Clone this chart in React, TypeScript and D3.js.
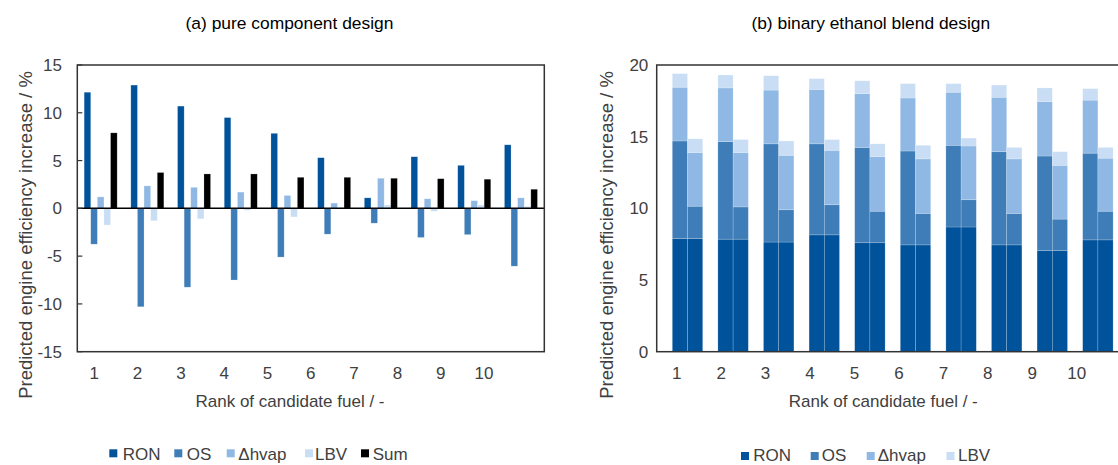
import React from 'react';
import * as d3 from 'd3';

// ---------- data ----------
const ranks = ['1', '2', '3', '4', '5', '6', '7', '8', '9', '10'];
const pureKeys = ['RON', 'OS', 'Δhvap', 'LBV', 'Sum'];
const blendKeys = ['RON', 'OS', 'Δhvap', 'LBV'];

const pureRON = [12.15, 12.9, 10.7, 9.5, 7.85, 5.3, 1.1, 5.4, 4.5, 6.65];
const pureOS = [-3.75, -10.3, -8.25, -7.5, -5.1, -2.7, -1.55, -3.05, -2.75, -6.05];
const pureHvap = [1.2, 2.35, 2.2, 1.7, 1.35, 0.55, 3.15, 1.0, 0.8, 1.1];
const pureLBV = [-1.75, -1.3, -1.1, -0.2, -0.9, 0.1, 0.35, -0.3, 0.35, 0.2];
const pureSum = [7.9, 3.75, 3.6, 3.6, 3.25, 3.25, 3.15, 3.1, 3.05, 2.0];

const blendRON = [7.9, 7.85, 7.65, 8.15, 7.6, 7.45, 8.7, 7.45, 7.05, 7.8];
const blendOS_A = [6.8, 6.8, 6.85, 6.35, 6.65, 6.55, 5.7, 6.5, 6.6, 6.05];
const blendHvap_A = [3.75, 3.75, 3.75, 3.8, 3.75, 3.7, 3.7, 3.8, 3.8, 3.7];
const blendLBV_A = [0.95, 0.9, 1.0, 0.75, 0.9, 1.0, 0.6, 0.85, 0.95, 0.8];
const blendOS_B = [2.25, 2.25, 2.25, 2.1, 2.2, 2.2, 1.9, 2.2, 2.2, 2.0];
const blendHvap_B = [3.75, 3.8, 3.8, 3.8, 3.8, 3.8, 3.75, 3.8, 3.75, 3.7];
const blendLBV_B = [0.95, 0.9, 1.0, 0.75, 0.9, 0.95, 0.55, 0.8, 0.95, 0.75];

const pureTicks = [-15, -10, -5, 0, 5, 10, 15];
const blendTicks = [0, 5, 10, 15, 20];

// ---------- styles ----------
const colors: Record<string, string> = {
  RON: '#00529b',
  OS: '#3f7db8',
  'Δhvap': '#8fb9e4',
  LBV: '#c9def4',
  Sum: '#000000',
};
const FONT = '"Liberation Sans", Arial, sans-serif';
const GRAY = '#404040';

export default function App() {
  // ---- left panel ----
  const L = { x0: 77.3, x1: 544.3, y0: 65, y1: 351.7 };
  const yL = d3.scaleLinear().domain([-15, 15]).range([L.y1, L.y0]);
  const xL = d3.scaleBand().domain(ranks).range([L.x0, L.x1]).paddingInner(0.293).paddingOuter(0.1465);
  const xLs = d3.scaleBand().domain(pureKeys).range([0, xL.bandwidth()]);
  const xLlab = d3.scaleBand().domain(ranks).range([72.65, 505.65]);
  const pureRows = ranks.map((r, i) => ({
    rank: r,
    RON: pureRON[i],
    OS: pureOS[i],
    'Δhvap': pureHvap[i],
    LBV: pureLBV[i],
    Sum: pureSum[i],
  }));

  // ---- right panel ----
  const R = { x0: 656.7, x1: 1125, y0: 65, y1: 351.7 };
  const yR = d3.scaleLinear().domain([0, 20]).range([R.y1, R.y0]);
  const xR = d3.scaleBand().domain(ranks).range([664.7, 1120.7]).paddingInner(0.333).paddingOuter(0.1667);
  const xRs = d3.scaleBand().domain(['A', 'B']).range([0, xR.bandwidth()]);
  const xRlab = d3.scaleBand().domain(ranks).range([654.5, 1098.9]);
  const rowsA = ranks.map((r, i) => ({ rank: r, RON: blendRON[i], OS: blendOS_A[i], 'Δhvap': blendHvap_A[i], LBV: blendLBV_A[i] }));
  const rowsB = ranks.map((r, i) => ({ rank: r, RON: blendRON[i], OS: blendOS_B[i], 'Δhvap': blendHvap_B[i], LBV: blendLBV_B[i] }));
  const stack = d3.stack<any>().keys(blendKeys);
  const stackA = stack(rowsA);
  const stackB = stack(rowsB);

  const leftLegend = [
    { k: 'RON', sx: 109.3, tx: 122.7 },
    { k: 'OS', sx: 174.3, tx: 186.7 },
    { k: 'Δhvap', sx: 226.7, tx: 238.3 },
    { k: 'LBV', sx: 305, tx: 315 },
    { k: 'Sum', sx: 361, tx: 372.7 },
  ];
  const rightLegend = [
    { k: 'RON', sx: 741, tx: 753.3 },
    { k: 'OS', sx: 810.7, tx: 821.7 },
    { k: 'Δhvap', sx: 866.7, tx: 877.7 },
    { k: 'LBV', sx: 946.5, tx: 958 },
  ];

  return (
    <svg width={1118} height={465} style={{ position: 'absolute', left: 0, top: 0, background: '#fff' }} fontFamily={FONT}>
      {/* ===== Left panel ===== */}
      <text x={289.5} y={29} textAnchor="middle" fontSize={17.4} fill="#000">(a) pure component design</text>
      <g>
        {pureRows.map((row) => (
          <g key={row.rank} transform={`translate(${xL(row.rank)},0)`}>
            {pureKeys.map((k) => {
              const v = (row as any)[k] as number;
              const y = Math.min(yL(v), yL(0));
              const h = Math.abs(yL(v) - yL(0));
              return (
                <rect key={k} x={xLs(k)} y={y} width={xLs.bandwidth()} height={h} fill={colors[k]}
                  stroke="rgba(255,255,255,0.35)" strokeWidth={0.6} />
              );
            })}
          </g>
        ))}
      </g>
      <line x1={L.x0} x2={L.x1} y1={yL(0)} y2={yL(0)} stroke="#000" strokeWidth={1.5} />
      <rect x={L.x0} y={L.y0} width={L.x1 - L.x0} height={L.y1 - L.y0} fill="none" stroke="#333" strokeWidth={1.5} />
      {pureTicks.map((t) => (
        <g key={t}>
          <line x1={L.x0} x2={L.x0 + 5} y1={yL(t)} y2={yL(t)} stroke="#333" strokeWidth={1.2} />
          <text x={62} y={yL(t)} dy="0.35em" textAnchor="end" fontSize={17} fill={GRAY}>{t}</text>
        </g>
      ))}
      {ranks.map((r) => (
        <text key={r} x={(xLlab(r) as number) + xLlab.bandwidth() / 2} y={379} textAnchor="middle" fontSize={17} fill={GRAY}>{r}</text>
      ))}
      <text x={290} y={407} textAnchor="middle" fontSize={17} fill={GRAY}>Rank of candidate fuel / -</text>
      <text transform="translate(25,235) rotate(-90)" textAnchor="middle" dominantBaseline="central" fontSize={18.5} fill={GRAY}>
        Predicted engine efficiency increase / %
      </text>
      {leftLegend.map((d) => (
        <g key={d.k}>
          <rect x={d.sx} y={449.3} width={8} height={8} fill={colors[d.k]} />
          <text x={d.tx} y={460} fontSize={17} fill={GRAY}>{d.k}</text>
        </g>
      ))}

      {/* ===== Right panel ===== */}
      <text x={870.8} y={29} textAnchor="middle" fontSize={17.4} fill="#000">(b) binary ethanol blend design</text>
      {[{ key: 'A', s: stackA }, { key: 'B', s: stackB }].map(({ key, s }) => (
        <g key={key}>
          {s.map((layer) => (
            <g key={layer.key} fill={colors[layer.key]}>
              {layer.map((seg, i) => (
                <rect key={i}
                  x={(xR(ranks[i]) as number) + (xRs(key) as number)}
                  y={yR(seg[1])}
                  width={xRs.bandwidth()}
                  height={yR(seg[0]) - yR(seg[1])}
                  stroke="rgba(255,255,255,0.3)" strokeWidth={0.6} />
              ))}
            </g>
          ))}
        </g>
      ))}
      <rect x={R.x0} y={R.y0} width={R.x1 - R.x0} height={R.y1 - R.y0} fill="none" stroke="#333" strokeWidth={1.5} />
      {blendTicks.map((t) => (
        <text key={t} x={648.3} y={yR(t)} dy="0.35em" textAnchor="end" fontSize={17} fill={GRAY}>{t}</text>
      ))}
      {ranks.map((r) => (
        <text key={r} x={(xRlab(r) as number) + xRlab.bandwidth() / 2} y={379} textAnchor="middle" fontSize={17} fill={GRAY}>{r}</text>
      ))}
      <text x={883.3} y={407} textAnchor="middle" fontSize={17} fill={GRAY}>Rank of candidate fuel / -</text>
      <text transform="translate(606.7,235) rotate(-90)" textAnchor="middle" dominantBaseline="central" fontSize={18.5} fill={GRAY}>
        Predicted engine efficiency increase / %
      </text>
      {rightLegend.map((d) => (
        <g key={d.k}>
          <rect x={d.sx} y={452} width={8} height={8} fill={colors[d.k]} />
          <text x={d.tx} y={461} fontSize={17} fill={GRAY}>{d.k}</text>
        </g>
      ))}
    </svg>
  );
}
